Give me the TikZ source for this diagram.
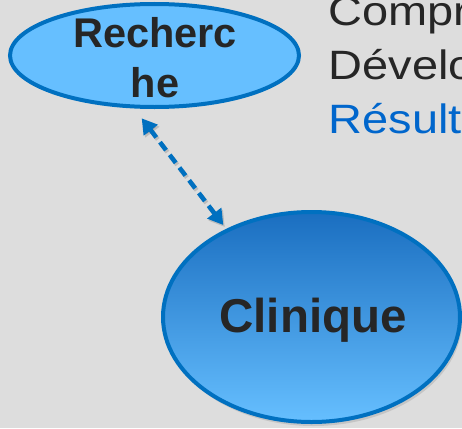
\documentclass[tikz,border=0pt]{standalone}
\usepackage{fontspec}
\setmainfont{Liberation Sans}
\usetikzlibrary{shapes.geometric,shadows,arrows.meta}
\definecolor{bg}{HTML}{DDDDDD}
\definecolor{edge}{HTML}{0070C0}
\definecolor{lightfill}{HTML}{66BFFF}
\definecolor{darkfill}{HTML}{1A6EC0}
\definecolor{txt}{HTML}{262626}
\definecolor{bluetxt}{HTML}{0066CC}
\newcommand{\widetxt}[1]{\scalebox{1.145}[1]{#1}}
\tikzset{
  oval/.style={ellipse, draw=edge, line width=4pt, inner sep=0pt},
  label/.style={font=\bfseries, text=txt, align=center, inner sep=0pt},
  side/.style={anchor=base west, inner sep=0pt, font=\fontsize{41}{50}\selectfont, text=txt},
  link/.style={draw=edge, line width=4.5pt, dash pattern=on 10pt off 6pt,
    {Triangle[length=15pt,width=17pt]}-{Triangle[length=15pt,width=17pt]}},
}
\begin{document}
\begin{tikzpicture}[x=1pt,y=-1pt]
\useasboundingbox (0,0) rectangle (462,428);
\fill[bg] (0,0) rectangle (462,428);
\begin{scope}
\clip (0,0) rectangle (462,428);
% right-hand text
\node[side] (t1) at (328.5,25.5) {\widetxt{Compréhension}};
\node[side] (t2) at (328.5,79.5) {\widetxt{Développement}};
\node[side, text=bluetxt] (t3) at (328.5,133) {\widetxt{Résultats}};
% Recherche
\node[oval, fill=lightfill, minimum width=289pt, minimum height=103pt] (rec) at (154.5,55.5) {};
\node[label, font=\bfseries\fontsize{41.5}{50}\selectfont] (rect) at (155,58) {Recherc\\he};
% Clinique
\node[oval, top color=darkfill, bottom color=lightfill, minimum width=297pt, minimum height=210pt,
  drop shadow={opacity=0.25, shadow xshift=2pt, shadow yshift=-4pt}] (cli) at (311.5,317) {};
\node[label, font=\bfseries\fontsize{47.5}{56}\selectfont] (clit) at (313,320) {Clinique};
% connector
\coordinate (a1) at (141.7,118.3);
\coordinate (a2) at (223.3,225);
\draw[link, preaction={draw=black, opacity=0.15, line width=4.5pt, dash pattern=on 10pt off 6pt, transform canvas={xshift=1.5pt,yshift=-2pt}}] (a1) -- (a2);
\end{scope}
\end{tikzpicture}
\end{document}
